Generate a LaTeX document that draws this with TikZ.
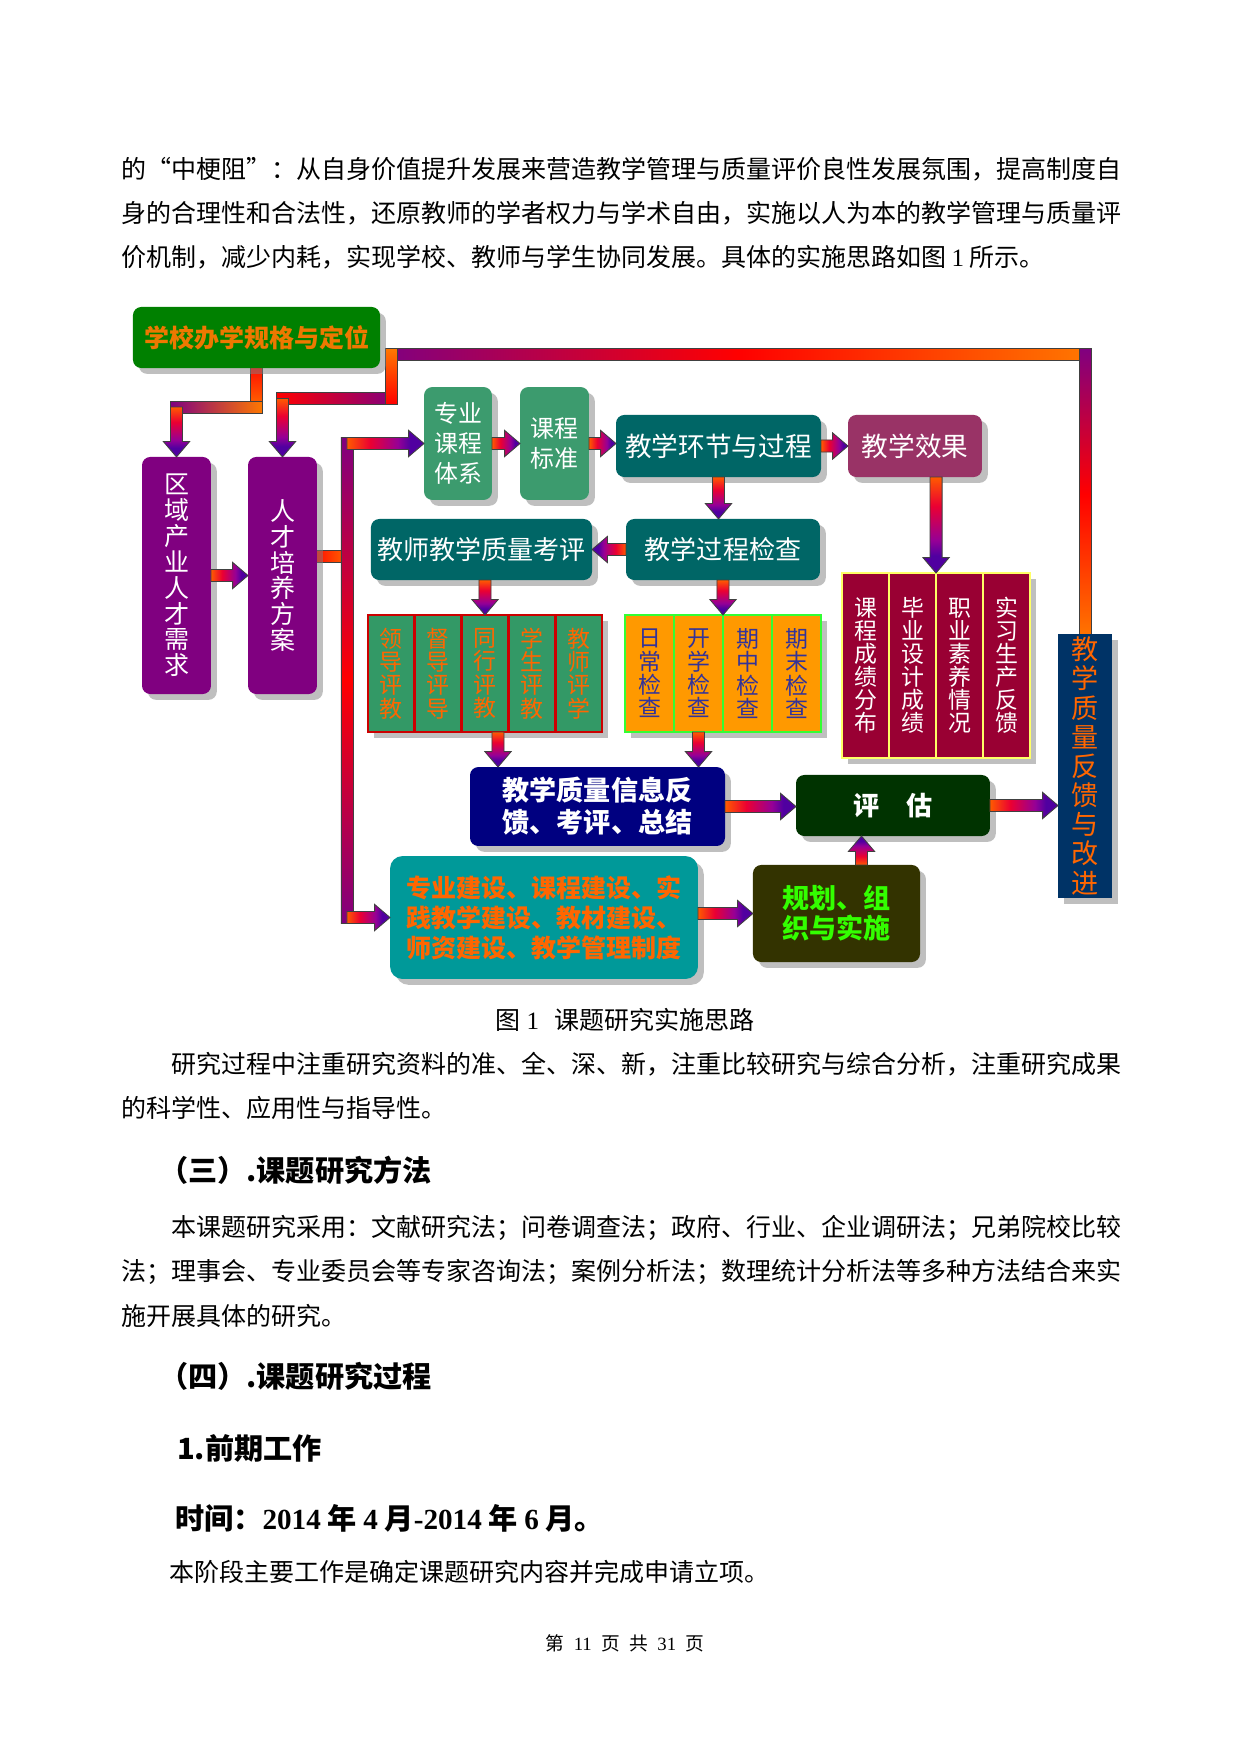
\documentclass[tikz,border=0pt]{standalone}
\usepackage{fontspec}
\setmainfont{Noto Sans CJK SC}
\newfontfamily\tnr{Liberation Serif}
\usetikzlibrary{calc,shadows}

\definecolor{topgreen}{RGB}{0,128,0}
\definecolor{toporange}{RGB}{238,120,0}
\definecolor{plum}{RGB}{128,0,128}
\definecolor{sagegreen}{RGB}{60,155,110}
\definecolor{darkteal}{RGB}{0,102,102}
\definecolor{rosewood}{RGB}{153,51,102}
\definecolor{pinggreen}{RGB}{51,153,102}
\definecolor{pingred}{RGB}{204,0,0}
\definecolor{pingtext}{RGB}{255,102,0}
\definecolor{chkorange}{RGB}{255,153,0}
\definecolor{chkgreen}{RGB}{51,255,51}
\definecolor{chktext}{RGB}{51,51,153}
\definecolor{rescrimson}{RGB}{153,0,51}
\definecolor{resyellow}{RGB}{255,255,102}
\definecolor{fbnavy}{RGB}{0,51,102}
\definecolor{fbtext}{RGB}{255,102,0}
\definecolor{infonavy}{RGB}{0,0,128}
\definecolor{evalgreen}{RGB}{0,51,0}
\definecolor{buildteal}{RGB}{0,153,153}
\definecolor{buildtext}{RGB}{255,102,0}
\definecolor{planolive}{RGB}{51,51,0}
\definecolor{plantext}{RGB}{51,255,0}
\definecolor{pipeO}{RGB}{255,120,0}
\definecolor{pipeR}{RGB}{255,0,0}
\definecolor{pipeP}{RGB}{128,0,128}
\definecolor{arrA}{RGB}{255,90,0}
\definecolor{arrB}{RGB}{235,0,50}
\definecolor{arrC}{RGB}{150,0,150}
\definecolor{arrD}{RGB}{80,0,160}

\pgfdeclarehorizontalshading{fatshade}{100bp}{color(0bp)=(arrA); color(25bp)=(arrA); color(40bp)=(arrB); color(58bp)=(arrC); color(66bp)=(arrD); color(100bp)=(arrD)}

\pgfdeclarelayer{paper}
\pgfdeclarelayer{pipes}
\pgfsetlayers{paper,pipes,main}

\tikzset{
  para/.style={inner sep=0pt, outer sep=0pt, anchor=west, font=\fontsize{12}{14}\selectfont},
  head/.style={para, font=\fontsize{14}{16}\selectfont\bfseries},
  box/.style={inner sep=0pt, outer sep=0pt, rounded corners=4pt, align=center, text=white,
    drop shadow={shadow xshift=2.8pt, shadow yshift=-2.8pt}},
  cell/.style={box, sharp corners, line width=1.3pt},
  pingcell/.style={cell, draw=pingred, fill=pinggreen, text=pingtext, minimum width=22.5pt,
    minimum height=56.2pt, font=\fontsize{11}{11.2}\selectfont},
  chkcell/.style={cell, draw=chkgreen, fill=chkorange, text=chktext, minimum width=23.5pt,
    minimum height=56.2pt, font=\fontsize{11}{11.2}\selectfont},
  rescell/.style={cell, line width=1pt, draw=resyellow, fill=rescrimson, minimum width=22.6pt,
    minimum height=88.8pt, font=\fontsize{11}{11}\selectfont},
  pipe/.style={draw=black!75, line width=0.4pt},
  fatarr/.style={draw=black!75, line width=0.4pt, shading=fatshade},
}

%% straight pipe, #1 left of / above #2
\newcommand\pipe[3]{\shade[pipe,#3] ($(#1)+(-6,-6)$) rectangle ($(#2)+(6,6)$);}
%% fat shaded arrow from #1 to #2
\newcommand\fatarrow[2]{%
  \shade[fatarr] let \p1=(#1), \p2=(#2),
      \n1={atan2(\y2-\y1,\x2-\x1)}, \n2={veclen(\x2-\x1,\y2-\y1)-7.4} in
    [shading angle=\n1]
    ($(\p1)+(\n1+90:2.9pt)$) -- ($(\p1)+(\n1:\n2)+(\n1+90:2.9pt)$)
    -- ($(\p1)+(\n1:\n2)+(\n1+90:6.3pt)$) -- (\p2)
    -- ($(\p1)+(\n1:\n2)+(\n1-90:6.3pt)$) -- ($(\p1)+(\n1:\n2)+(\n1-90:2.9pt)$)
    -- ($(\p1)+(\n1-90:2.9pt)$) -- cycle;}

\begin{document}
\begin{tikzpicture}[x=0.48pt,y=-0.48pt]
\useasboundingbox (0,0) rectangle (1240,1754);
\begin{pgfonlayer}{paper}
  \fill[white] (0,0) rectangle (1240,1754);
\end{pgfonlayer}

%% Text above the figure
\node[para] (l1) at (121,169) {的“中梗阻”：从自身价值提升发展来营造教学管理与质量评价良性发展氛围，提高制度自};
\node[para] (l2) at (121,213) {身的合理性和合法性，还原教师的学者权力与学术自由，实施以人为本的教学管理与质量评};
\node[para] (l3) at (121,257) {价机制，减少内耗，实现学校、教师与学生协同发展。具体的实施思路如图 {\tnr 1} 所示。};

%% Top row
\node[box, fill=topgreen, text=toporange, minimum width=118.6pt, minimum height=29.3pt,
  font=\fontsize{12}{14}\selectfont\bfseries] (top) at (256.5,337.5) {学校办学规格与定位};
\node[box, fill=plum, minimum width=33.1pt, minimum height=113.8pt,
  font=\fontsize{12}{12.4}\selectfont] (quyu) at (176.5,575.5) {区\\域\\产\\业\\人\\才\\需\\求};
\node[box, fill=plum, minimum width=33.1pt, minimum height=113.8pt,
  font=\fontsize{12}{12.4}\selectfont] (rencai) at (282.5,575.5) {人\\才\\培\\养\\方\\案};
\node[box, fill=sagegreen, minimum width=32.6pt, minimum height=54.2pt,
  font=\fontsize{11.5}{14.4}\selectfont] (zhuanye) at (458,443.5) {专业\\课程\\体系};
\node[box, fill=sagegreen, minimum width=33.1pt, minimum height=54.2pt,
  font=\fontsize{11.5}{14}\selectfont] (kecheng) at (554.5,443.5) {课程\\标准};
\node[box, fill=darkteal, minimum width=98.4pt, minimum height=29.8pt,
  font=\fontsize{12.8}{14}\selectfont] (huanjie) at (718.5,446) {教学环节与过程};
\node[box, fill=rosewood, minimum width=64.3pt, minimum height=29.8pt,
  font=\fontsize{12.8}{14}\selectfont] (xiaoguo) at (915,446) {教学效果};

%% Second row
\node[box, fill=darkteal, minimum width=106.1pt, minimum height=29.3pt,
  font=\fontsize{12.5}{14}\selectfont] (kaoping) at (481.5,549.5) {教师教学质量考评};
\node[box, fill=darkteal, minimum width=93.1pt, minimum height=29.3pt,
  font=\fontsize{12.5}{14}\selectfont] (jiancha) at (723,549.5) {教学过程检查};

%% Evaluation cells
\node[pingcell] (p1) at (391.4,673.5) {领\\导\\评\\教};
\node[pingcell] (p2) at (438.2,673.5) {督\\导\\评\\导};
\node[pingcell] (p3) at (485.0,673.5) {同\\行\\评\\教};
\node[pingcell] (p4) at (531.8,673.5) {学\\生\\评\\教};
\node[pingcell] (p5) at (578.6,673.5) {教\\师\\评\\学};

%% Check cells
\node[chkcell] (c1) at (649.5,673.5) {日\\常\\检\\查};
\node[chkcell] (c2) at (698.5,673.5) {开\\学\\检\\查};
\node[chkcell] (c3) at (747.5,673.5) {期\\中\\检\\查};
\node[chkcell] (c4) at (796.5,673.5) {期\\末\\检\\查};

%% Result cells
\node[rescell] (r1) at (865.5,665.5) {课\\程\\成\\绩\\分\\布};
\node[rescell] (r2) at (912.5,665.5) {毕\\业\\设\\计\\成\\绩};
\node[rescell] (r3) at (959.5,665.5) {职\\业\\素\\养\\情\\况};
\node[rescell] (r4) at (1006.5,665.5) {实\\习\\生\\产\\反\\馈};

%% Feedback column
\node[box, sharp corners, fill=fbnavy, text=fbtext, minimum width=25.9pt, minimum height=126.7pt,
  font=\fontsize{13}{14}\selectfont] (fankui) at (1085,766) {教\\学\\质\\量\\反\\馈\\与\\改\\进};

%% Bottom rows
\node[box, fill=infonavy, minimum width=122.4pt, minimum height=37.9pt,
  font=\fontsize{13}{15.4}\selectfont\bfseries] (xinxi) at (597.5,806.5) {教学质量信息反\\馈、考评、总结};
\node[box, fill=evalgreen, minimum width=93.1pt, minimum height=29.3pt,
  font=\fontsize{12.5}{14}\selectfont\bfseries] (pinggu) at (893,805.5) {评　估};
\node[box, rounded corners=6pt, fill=buildteal, text=buildtext, minimum width=147.8pt, minimum height=59pt,
  font=\fontsize{12}{14.4}\selectfont\bfseries] (teal) at (544,917.5)
  {专业建设、课程建设、实\\践教学建设、教材建设、\\师资建设、教学管理制度};
\node[box, fill=planolive, text=plantext, minimum width=80.2pt, minimum height=46.6pt,
  font=\fontsize{13}{14.4}\selectfont\bfseries] (guihua) at (836.5,913.5) {规划、组\\织与实施};

%% Pipe corners
\coordinate (elbowA) at ($(top.south)+(0,39)$);
\coordinate (cA) at (elbowA -| quyu.north);
\coordinate (tp0) at ($(top.east)+(11,17)$);
\coordinate (tp1) at (tp0 -| fankui.north);
\coordinate (eb1) at ($(tp0)+(0,44)$);
\coordinate (cB) at (eb1 -| rencai.north);
\coordinate (st) at ($(rencai.east)+(0,-19.5)$);
\coordinate (sp) at ($(st)+(30,0)$);
\coordinate (spT) at (sp |- zhuanye.west);
\coordinate (spB) at (sp |- teal.west);
\coordinate (pd) at ($(p3.south)+(13,0)$);
\coordinate (gu) at ($(guihua.north)+(25,0)$);

\begin{pgfonlayer}{pipes}
  \pipe{top.south}{elbowA}{top color=pipeR, bottom color=pipeO}
  \pipe{cA}{elbowA}{left color=pipeP, right color=pipeO}
  \pipe{tp0}{tp1}{left color=pipeP, right color=pipeO, middle color=pipeR}
  \pipe{tp1}{fankui.north}{top color=pipeP, bottom color=pipeO, middle color=pipeR}
  \pipe{cB}{eb1}{left color=pipeR, right color=pipeP}
  \pipe{tp0}{eb1}{top color=pipeO, bottom color=pipeR}
  \pipe{st}{sp}{left color=pipeR, right color=pipeO}
  \pipe{spT}{spB}{top color=pipeP, bottom color=pipeP, middle color=pipeR}
\end{pgfonlayer}

%% Arrows
\fatarrow{cA}{quyu.north}
\fatarrow{cB}{rencai.north}
\fatarrow{quyu.east}{rencai.west}
\fatarrow{spT}{zhuanye.west}
\fatarrow{spB}{teal.west}
\fatarrow{zhuanye.east}{kecheng.west}
\fatarrow{kecheng.east}{kecheng.east -| huanjie.west}
\fatarrow{huanjie.east}{xiaoguo.west}
\fatarrow{huanjie.south}{huanjie.south |- jiancha.north}
\fatarrow{jiancha.west}{kaoping.east}
\fatarrow{p3.north |- kaoping.south}{p3.north}
\fatarrow{jiancha.south}{jiancha.south |- c1.north}
\fatarrow{r2.north east |- xiaoguo.south}{r2.north east}
\fatarrow{pd}{pd |- xinxi.north}
\fatarrow{c2.south}{c2.south |- xinxi.north}
\fatarrow{xinxi.east}{xinxi.east -| pinggu.west}
\fatarrow{pinggu.east}{pinggu.east -| fankui.west}
\fatarrow{guihua.west -| teal.east}{guihua.west}
\fatarrow{gu}{gu |- pinggu.south}

%% Text below the figure
\node[para, anchor=center] (cap) at (625,1020) {图 {\tnr 1}\hspace{0.6em}课题研究实施思路};
\node[para] (p2a) at (171,1064) {研究过程中注重研究资料的准、全、深、新，注重比较研究与综合分析，注重研究成果};
\node[para] (p2b) at (121,1108) {的科学性、应用性与指导性。};
\node[head] (h3) at (159,1170) {（三）.课题研究方法};
\node[para] (p3a) at (171,1228) {本课题研究采用：文献研究法；问卷调查法；政府、行业、企业调研法；兄弟院校比较};
\node[para] (p3b) at (121,1272) {法；理事会、专业委员会等专家咨询法；案例分析法；数理统计分析法等多种方法结合来实};
\node[para] (p3c) at (121,1316) {施开展具体的研究。};
\node[head] (h4) at (159,1376) {（四）.课题研究过程};
\node[head] (h5) at (177,1448) {1.前期工作};
\node[head] (h6) at (175,1518) {时间：{\tnr 2014} 年 {\tnr 4} 月{\tnr -2014} 年 {\tnr 6} 月。};
\node[para] (p4) at (169,1572) {本阶段主要工作是确定课题研究内容并完成申请立项。};
\node[para, anchor=center, font=\fontsize{9}{11}\selectfont] (foot) at (625,1643)
  {第\hspace{0.5em}{\tnr 11}\hspace{0.5em}页\hspace{0.5em}共\hspace{0.5em}{\tnr 31}\hspace{0.5em}页};
\end{tikzpicture}
\end{document}
